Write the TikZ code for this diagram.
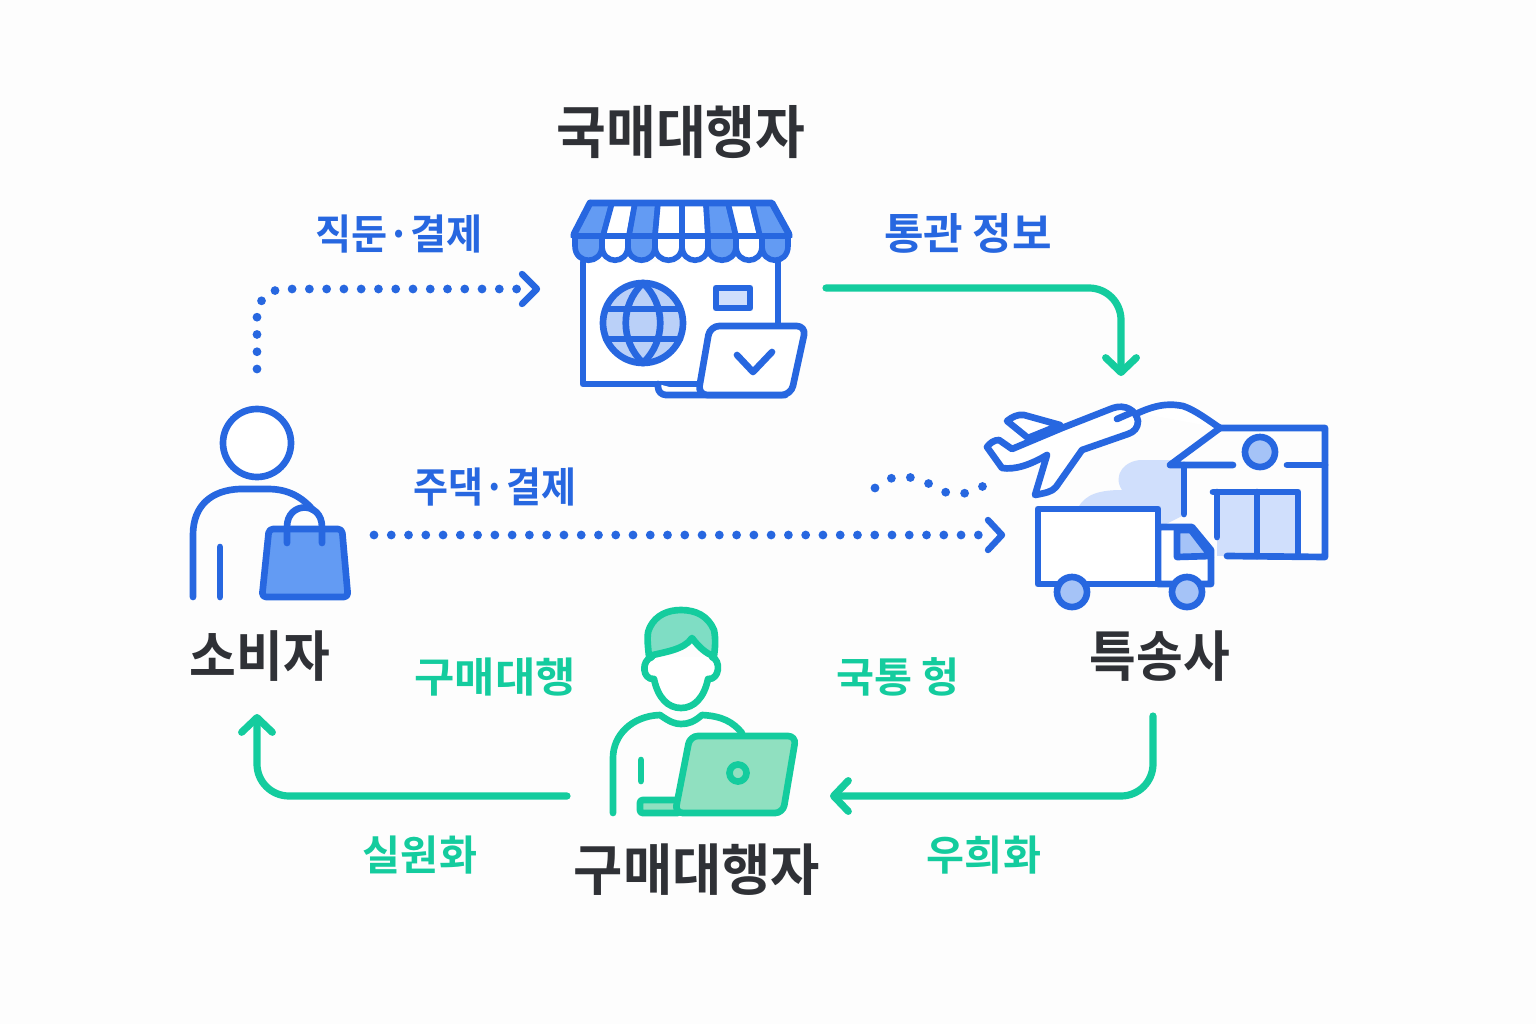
\documentclass[tikz,border=0pt]{standalone}
\usepackage{fontspec}
\usepackage{graphicx}
\usetikzlibrary{arrows.meta}
\setmainfont{Noto Sans CJK KR}[BoldFont={Noto Sans CJK KR Bold}]
\definecolor{bluemain}{HTML}{2767E0}
\definecolor{bluemid}{HTML}{639BF3}
\definecolor{bluesoft}{HTML}{A5C3F7}
\definecolor{bluepale}{HTML}{D0DFFC}
\definecolor{globefill}{HTML}{BAD0F8}
\definecolor{greenmain}{HTML}{14CC9E}
\definecolor{greenhair}{HTML}{7FDDC4}
\definecolor{greenfill}{HTML}{90E0C0}
\definecolor{inkdark}{HTML}{2F3136}
\definecolor{pagebg}{HTML}{FDFDFD}
\tikzset{
  bl/.style={draw=bluemain,line width=5pt,line join=round,line cap=round},
  bt/.style={draw=bluemain,line width=4.2pt,line join=round,line cap=round},
  gl/.style={draw=greenmain,line width=5pt,line join=round,line cap=round},
  flowgreen/.style={draw=greenmain,line width=5.4pt,line cap=round,rounded corners=24pt,-{Straight Barb[round,length=11pt,width=23pt,line width=5.4pt]}},
  flowdots/.style={draw=bluemain,line width=6.6pt,line cap=round,dash pattern=on 0pt off 12.95pt,rounded corners=20pt},
  chevron/.style={draw=bluemain,line width=4.8pt,line cap=round,line join=round},
  dark/.style={font=\bfseries\fontsize{41pt}{41pt}\selectfont,text=inkdark,inner sep=0pt},
  bluet/.style={font=\bfseries\fontsize{31pt}{31pt}\selectfont,text=bluemain,inner sep=0pt},
  greent/.style={font=\bfseries\fontsize{31pt}{31pt}\selectfont,text=greenmain,inner sep=0pt},
}
\begin{document}
\begin{tikzpicture}[x=0.75pt,y=-0.75pt]
\useasboundingbox (0,0) rectangle (1536,1024);
\fill[pagebg] (0,0) rectangle (1536,1024);

% ---------- shop icon
\fill[white] (583,262) rectangle (778,384);
\foreach \a/\b/\c/\d/\f in {590/612/603/573/bluemid,612/635/629/603/white,635/658/655/629/bluemid,658/682/682/655/white,682/706/708/682/white,706/728/736/708/bluemid,728/752/760/736/white,752/772/790/760/bluemid}{
  \path[bt,fill=\f] (\a,203) -- (\b,203) -- (\c,236) -- (\d,236) -- cycle;
}
\foreach \a/\b/\f in {575/602/bluemid,602/628/white,628/655/bluemid,655/682/white,682/708/white,708/736/bluemid,736/762/white,762/788/bluemid}{
  \path[bt,fill=\f] (\a,236) -- (\a,246) .. controls (\a,265) and (\b,265) .. (\b,246) -- (\b,236) -- cycle;
}
\draw[bl] (590,203) -- (772,203) -- (789,234);
\draw[bl] (590,203) -- (574,234);
\draw[bl] (583,262) -- (583,384) -- (700,384);
\draw[bl] (778,262) -- (778,326);
\path[bl,fill=globefill] (643,323) circle[radius=40];
\draw[bl] (643,283) .. controls (620,305) and (620,341) .. (643,363) .. controls (666,341) and (666,305) .. (643,283);
\draw[bl] (606,309) -- (680,309) (606,339) -- (680,339);
\path[bl,fill=bluepale] (716,288) rectangle (750,308);
\path[bl,fill=white,rounded corners=6pt] (658,384) -- (658,395) -- (790,395) -- (700,395);
\path[bl,fill=white,rounded corners=7pt] (710,326) -- (806,326) -- (791,395) -- (698,395) -- cycle;
\draw[bl] (737,355) -- (753,372) -- (772,352);
\node[inner sep=0pt,minimum width=176pt,minimum height=146pt] (shopicon) at (690,300) {};

% ---------- consumer icon
\path[bl,fill=white] (257,443) circle[radius=34];
\draw[bl] (193,597) -- (193,535) .. controls (193,505) and (212,490) .. (240,489) -- (268,489) .. controls (288,489) and (302,497) .. (313,510);
\draw[bl] (220,547) -- (220,597);
\path[bl,fill=bluemid,rounded corners=3pt] (269,529) -- (342,529) -- (348,597) -- (262,597) -- cycle;
\draw[bl] (287,543) -- (287,527) .. controls (287,501) and (322,501) .. (322,527) -- (322,543);
\node[inner sep=0pt,minimum width=120pt,minimum height=146pt] (consumericon) at (270,502) {};

% ---------- logistics icon
\fill[bluepale] (1078,508) .. controls (1085,494) and (1100,490) .. (1122,490) .. controls (1112,475) and (1125,460) .. (1142,460) -- (1172,460) -- (1184,466) -- (1184,515) -- (1158,528) -- (1078,515) -- cycle;
\fill[bluepale] (1217,492) rectangle (1298,556);
\path[bl,fill=white] (1138,413) .. controls (1160,403) and (1172,404) .. (1183,406) .. controls (1195,410) and (1208,420) .. (1220,428);
\draw[bl] (1220,428) -- (1325,428) -- (1325,557) -- (1227,556);
\draw[bl] (1220,428) -- (1170,465) -- (1233,465);
\draw[bl] (1287,465) -- (1325,465);
\draw[bl] (1184,465) -- (1184,514);
\path[bl,fill=bluesoft] (1260,452) circle[radius=15];
\draw[bl] (1213,492) -- (1298,492) -- (1298,556);
\draw[bl] (1217,492) -- (1217,537);
\draw[bl] (1257,492) -- (1257,556);
% plane
\path[bl,fill=white] (1007,421) .. controls (1012,417) and (1018,414) .. (1024,415) -- (1060,425) -- (1028,438) -- cycle;
\path[bl,fill=white] (987,447) .. controls (990,443) and (994,440) .. (999,440) -- (1012,449) -- (1062,428) -- (1113,408) .. controls (1125,404) and (1136,410) .. (1138,421) .. controls (1138,428) and (1134,432) .. (1128,434) -- (1082,450) -- (1056,487) .. controls (1052,492) and (1045,493) .. (1035,495) -- (1047,455) .. controls (1030,465) and (1015,470) .. (1002,468) -- cycle;
\draw[bl] (1117,419) -- (1133,412);
% truck
\path[bl,fill=white] (1158,527) -- (1192,527) -- (1211,550) -- (1211,584) -- (1158,584) -- cycle;
\path[bl,fill=bluesoft] (1177,530) -- (1191,530) -- (1211,556) -- (1177,557) -- cycle;
\path[bl,fill=white] (1038,509) -- (1158,509) -- (1158,584) -- (1038,584) -- cycle;
\path[bl,fill=bluesoft] (1072,592) circle[radius=15];
\path[bl,fill=bluesoft] (1187,592) circle[radius=15];
\node[inner sep=0pt,minimum width=256pt,minimum height=156pt] (logisticsicon) at (1157,507) {};

% ---------- agent icon
\fill[white] (653,657) .. controls (642,658) and (645,680) .. (654,678) .. controls (658,698) and (668,708) .. (681,708) .. controls (694,708) and (704,698) .. (708,678) .. controls (718,680) and (721,658) .. (711,657) -- cycle;
\draw[gl] (652,657) .. controls (641,660) and (642,680) .. (654,679) .. controls (658,698) and (668,708) .. (681,708) .. controls (694,708) and (704,698) .. (708,679) .. controls (720,680) and (721,660) .. (712,657);
\path[gl,fill=greenhair] (649,656) .. controls (647,640) and (647,632) .. (650,627) .. controls (656,615) and (668,610) .. (681,610) .. controls (696,610) and (708,616) .. (714,630) .. controls (716,640) and (715,648) .. (714,656) .. controls (706,654) and (698,646) .. (692,638) .. controls (684,650) and (664,652) .. (649,656) -- cycle;
\draw[gl] (613,813) -- (613,758) .. controls (613,735) and (632,716) .. (660,715) .. controls (670,722) and (675,724) .. (681,724) .. controls (688,724) and (694,722) .. (702,715) .. controls (722,716) and (733,722) .. (742,733);
\draw[gl] (641,760) -- (641,781);
\path[gl,fill=greenfill,rounded corners=2pt] (640,800) -- (680,800) -- (680,813) -- (640,813) -- cycle;
\path[gl,fill=greenfill,rounded corners=6pt] (690,736) -- (796,736) -- (783,813) -- (675,813) -- cycle;
\path[gl,fill=greenfill] (738,773) circle[radius=8.5];
\node[inner sep=0pt,minimum width=140pt,minimum height=156pt] (agenticon) at (704,712) {};

% ---------- labels
\node[dark] (ltop) at (681,132) {\scalebox{.99}[1.05]{국매대행자}};
\node[bluet] (lorder) at (399,234) {\scalebox{.95}[1]{직둔·결제}};
\node[bluet] (lcustoms) at (968,233) {\scalebox{1.04}[1.04]{통관 정보}};
\node[bluet] (lpay) at (495,487) {\scalebox{.92}[1]{주댁·결제}};
\node[dark] (lconsumer) at (260,656) {\scalebox{.93}[1]{소비자}};
\node[dark] (lcourier) at (1160,656) {\scalebox{.93}[1]{특송사}};
\node[greent] (lproxy) at (495,677) {\scalebox{1.06}[1]{구매대행}};
\node[greent] (ltrans) at (898,677) {국통 헝};
\node[dark] (lagent) at (697,870) {\scalebox{.98}[1.02]{구매대행자}};
\node[greent] (lreal) at (420,855) {실원화};
\node[greent] (ldetour) at (984,855) {우희화};

% ---------- connectors
\coordinate (s1) at (257,369);
\coordinate (c1) at (257,289);
\coordinate (e1) at (530,289);
\draw[flowdots] (s1) -- (c1) -- (e1);
\draw[chevron] (522,274) -- (537,289) -- (522,304);

\coordinate (s2) at (374,535);
\coordinate (e2) at (995,535);
\draw[flowdots] (s2) -- (e2);
\draw[chevron] (988,520) -- (1002,535) -- (988,550);

\coordinate (s3) at (875,488);
\coordinate (e3) at (988,483);
\draw[flowdots,rounded corners=0pt,dash pattern=on 0pt off 14.4pt] (s3) .. controls (895,470) and (915,475) .. (945,492) .. controls (960,497) and (975,492) .. (e3);

\coordinate (s4) at (826,288);
\coordinate (c4) at (1121,288);
\coordinate (e4) at (1121,376);
\draw[flowgreen] (s4) -- (c4) -- (e4);

\coordinate (s5) at (1153,716);
\coordinate (c5) at (1153,796);
\coordinate (e5) at (830,796);
\draw[flowgreen] (s5) -- (c5) -- (e5);

\coordinate (s6) at (567,796);
\coordinate (c6) at (257,796);
\coordinate (e6) at (257,714);
\draw[flowgreen] (s6) -- (c6) -- (e6);
\end{tikzpicture}
\end{document}
